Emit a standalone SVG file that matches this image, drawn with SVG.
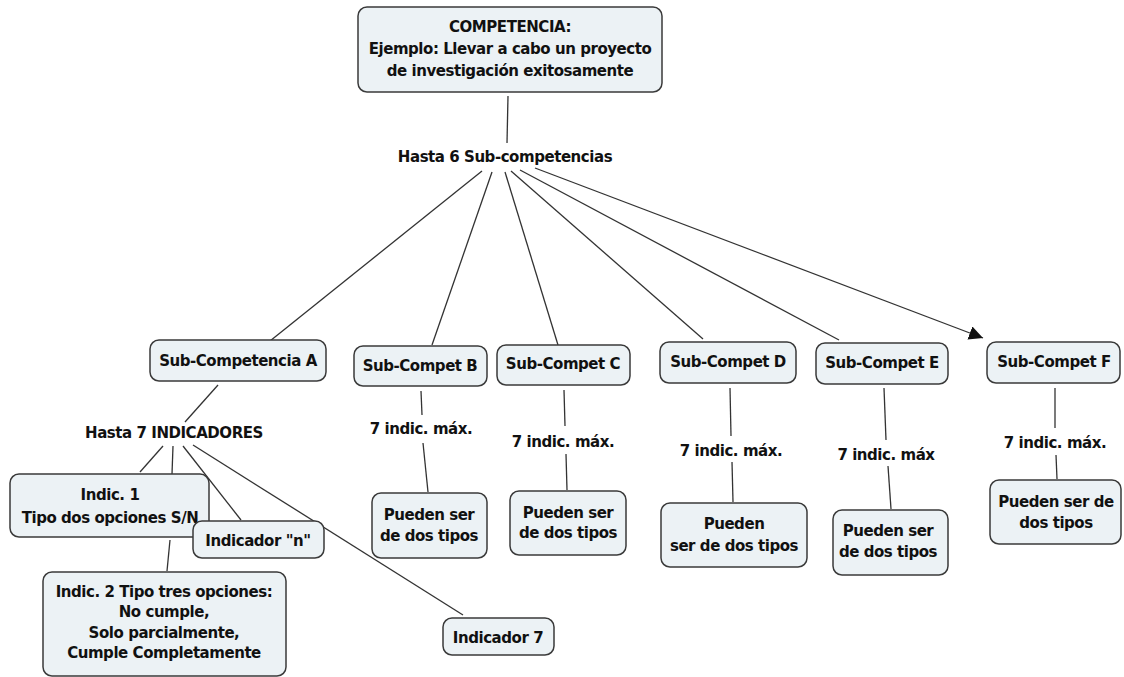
<svg xmlns="http://www.w3.org/2000/svg" width="1124" height="677" viewBox="0 0 1124 677">
<style>
.n{fill:#ecf2f5;stroke:#3a3a3a;stroke-width:1.5}
.t{font-family:"DejaVu Sans",Verdana,sans-serif;font-weight:bold;font-size:15px;letter-spacing:-0.45px;fill:#111;text-anchor:middle}
.c{stroke:#333;stroke-width:1.3;fill:none}
</style>
<defs>
<marker id="ah" viewBox="0 0 14 14" refX="14" refY="7" markerWidth="14" markerHeight="14" markerUnits="userSpaceOnUse" orient="auto">
<path d="M0,0 L14,7 L0,14 Z" fill="#111"/>
</marker>
</defs>
<rect width="1124" height="677" fill="#fff"/>
<g id="connectors">
<line class="c" x1="508" y1="96" x2="507" y2="143"/>
<line class="c" x1="482" y1="171" x2="270" y2="341"/>
<line class="c" x1="492" y1="172" x2="432" y2="345"/>
<line class="c" x1="505" y1="172" x2="558" y2="345"/>
<line class="c" x1="511" y1="171" x2="703" y2="339"/>
<line class="c" x1="520" y1="170" x2="839" y2="340"/>
<line class="c" x1="535" y1="168" x2="983" y2="338" marker-end="url(#ah)"/>
<line class="c" x1="218" y1="385" x2="185" y2="422"/>
<line class="c" x1="163" y1="446" x2="140" y2="472"/>
<line class="c" x1="173" y1="446" x2="172" y2="474"/>
<line class="c" x1="183" y1="446" x2="241" y2="520"/>
<line class="c" x1="193" y1="445" x2="463" y2="615"/>
<line class="c" x1="170" y1="540" x2="167" y2="571"/>
<line class="c" x1="421" y1="391" x2="422" y2="415"/>
<line class="c" x1="423" y1="443" x2="428" y2="492"/>
<line class="c" x1="564" y1="390" x2="565" y2="426"/>
<line class="c" x1="566" y1="454" x2="567" y2="490"/>
<line class="c" x1="730" y1="388" x2="731" y2="436"/>
<line class="c" x1="732" y1="462" x2="733" y2="502"/>
<line class="c" x1="884" y1="388" x2="886" y2="440"/>
<line class="c" x1="888" y1="466" x2="891" y2="509"/>
<line class="c" x1="1055" y1="388" x2="1055" y2="428"/>
<line class="c" x1="1056" y1="455" x2="1057" y2="479"/>
</g>
<g id="competencia"><rect class="n" x="358" y="7" width="304" height="85" rx="9"/>
<text class="t" x="510" y="32">COMPETENCIA:</text>
<text class="t" x="510" y="54">Ejemplo: Llevar a cabo un proyecto</text>
<text class="t" x="510" y="76">de investigación exitosamente</text></g>
<g id="lbl-subcomp"><text class="t" x="505" y="162">Hasta 6 Sub-competencias</text></g>
<g id="subA"><rect class="n" x="150" y="340" width="176" height="41" rx="9"/><text class="t" x="238" y="366">Sub-Competencia A</text></g>
<g id="lbl-ind"><text class="t" x="174" y="438">Hasta 7 INDICADORES</text></g>
<g id="indic1"><rect class="n" x="10" y="474" width="199" height="63" rx="9"/>
<text class="t" x="110" y="500">Indic. 1</text><text class="t" x="110" y="523">Tipo dos opciones S/N</text></g>
<g id="indicN"><rect class="n" x="193" y="521" width="131" height="37" rx="9"/><text class="t" x="258" y="546">Indicador "n"</text></g>
<g id="indic2"><rect class="n" x="43" y="572" width="243" height="104" rx="9"/>
<text class="t" x="164" y="597">Indic. 2 Tipo tres opciones:</text>
<text class="t" x="164" y="617">No cumple,</text>
<text class="t" x="164" y="638">Solo parcialmente,</text>
<text class="t" x="164" y="658">Cumple Completamente</text></g>
<g id="indic7"><rect class="n" x="443" y="618" width="111" height="37" rx="9"/><text class="t" x="498" y="643">Indicador 7</text></g>
<g id="subB"><rect class="n" x="354" y="346" width="133" height="40" rx="9"/><text class="t" x="420" y="371">Sub-Compet B</text></g>
<g id="lblB"><text class="t" x="421" y="434">7 indic. máx.</text></g>
<g id="puedB"><rect class="n" x="372" y="493" width="115" height="65" rx="9"/><text class="t" x="429" y="520">Pueden ser</text><text class="t" x="429" y="541">de dos tipos</text></g>
<g id="subC"><rect class="n" x="497" y="345" width="133" height="40" rx="9"/><text class="t" x="563" y="369">Sub-Compet C</text></g>
<g id="lblC"><text class="t" x="563" y="447">7 indic. máx.</text></g>
<g id="puedC"><rect class="n" x="510" y="491" width="116" height="64" rx="9"/><text class="t" x="568" y="518">Pueden ser</text><text class="t" x="568" y="538">de dos tipos</text></g>
<g id="subD"><rect class="n" x="660" y="342" width="136" height="41" rx="9"/><text class="t" x="728" y="367">Sub-Compet D</text></g>
<g id="lblD"><text class="t" x="731" y="456">7 indic. máx.</text></g>
<g id="puedD"><rect class="n" x="661" y="503" width="146" height="64" rx="9"/><text class="t" x="734" y="529">Pueden</text><text class="t" x="734" y="551">ser de dos tipos</text></g>
<g id="subE"><rect class="n" x="816" y="343" width="132" height="41" rx="9"/><text class="t" x="882" y="368">Sub-Compet E</text></g>
<g id="lblE"><text class="t" x="886" y="460">7 indic. máx</text></g>
<g id="puedE"><rect class="n" x="833" y="510" width="115" height="65" rx="9"/><text class="t" x="888" y="536">Pueden ser</text><text class="t" x="888" y="557">de dos tipos</text></g>
<g id="subF"><rect class="n" x="987" y="342" width="133" height="41" rx="9"/><text class="t" x="1054" y="367">Sub-Compet F</text></g>
<g id="lblF"><text class="t" x="1055" y="448">7 indic. máx.</text></g>
<g id="puedF"><rect class="n" x="990" y="480" width="131" height="64" rx="9"/><text class="t" x="1056" y="507">Pueden ser de</text><text class="t" x="1056" y="528">dos tipos</text></g>
</svg>
